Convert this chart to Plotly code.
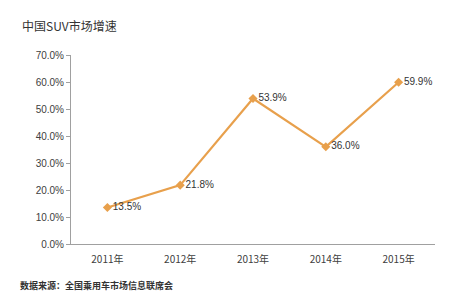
import plotly.graph_objects as go

years = ["2011年", "2012年", "2013年", "2014年", "2015年"]
growth = [13.5, 21.8, 53.9, 36.0, 59.9]
labels = ["13.5%", "21.8%", "53.9%", "36.0%", "59.9%"]
yticks = [0, 10, 20, 30, 40, 50, 60, 70]
yticklabels = ["0.0%", "10.0%", "20.0%", "30.0%", "40.0%", "50.0%", "60.0%", "70.0%"]

color = "#E8A04C"
fig = go.Figure()
fig.add_trace(go.Scatter(
    x=list(range(len(years))), y=growth, mode="lines+markers+text",
    line=dict(color=color, width=2.2),
    marker=dict(symbol="diamond", size=7, color=color),
    text=labels, textposition="middle right",
    textfont=dict(family="Liberation Sans, Arial", size=10, color="#333333"),
    cliponaxis=False, showlegend=False,
))

fig.update_layout(
    width=452, height=304,
    margin=dict(l=71, r=17, t=55, b=60),
    paper_bgcolor="white", plot_bgcolor="white",
    font=dict(family="Liberation Sans, Arial", color="#404040"),
    xaxis=dict(
        range=[-0.5, 4.5], tickvals=list(range(len(years))), ticktext=years,
        showgrid=False, zeroline=False, showline=True, linecolor="#A0A0A0", linewidth=1,
        ticks="", tickfont=dict(size=10, color="#404040", family="Noto Sans CJK SC"),
        ticklabelstandoff=6,
    ),
    yaxis=dict(
        range=[0, 70], tickvals=yticks, ticktext=yticklabels,
        showgrid=False, zeroline=False, showline=True, linecolor="#A0A0A0", linewidth=1,
        ticks="outside", ticklen=4, tickcolor="#A0A0A0",
        tickfont=dict(size=10, color="#404040"),
    ),
    annotations=[
        dict(text="中国SUV市场增速", x=20, y=25, xref="paper", yref="paper", showarrow=False),
    ],
)

# tick marks between categories on x axis
for b in [0.5, 1.5, 2.5, 3.5, 4.5]:
    fig.add_shape(type="line", x0=b, x1=b, y0=0, y1=-2.2, xref="x", yref="y",
                  line=dict(color="#A0A0A0", width=1))

fig.layout.annotations = []
fig.add_annotation(text="中国SUV市场增速", xref="paper", yref="paper",
                   x=-71/364 + 20/364, y=1 + (55-25)/189, xanchor="left", yanchor="middle",
                   showarrow=False, font=dict(family="Noto Sans CJK SC", size=12, color="#333333"))
fig.add_annotation(text="<b>数据来源：全国乘用车市场信息联席会</b>", xref="paper", yref="paper",
                   x=-71/364 + 18/364, y=-(285-244)/189, xanchor="left", yanchor="middle",
                   showarrow=False, font=dict(family="Noto Sans CJK SC", size=9, color="#333333"))

fig.write_html("out.html")
